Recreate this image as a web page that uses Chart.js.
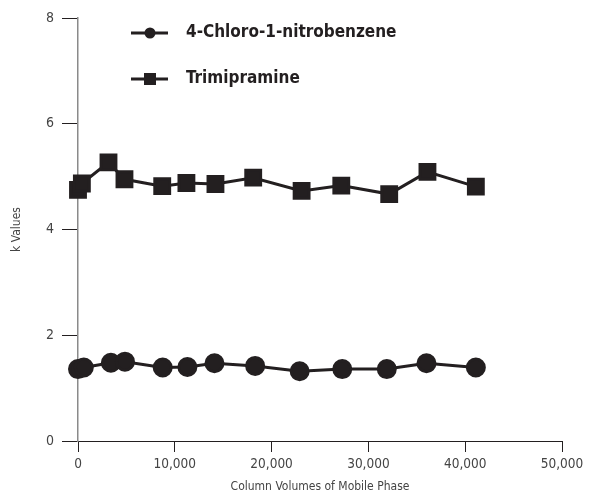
<!DOCTYPE html>
<html>
<head>
<meta charset="utf-8">
<script src="https://cdn.jsdelivr.net/npm/chart.js@4.4.1/dist/chart.umd.min.js"></script>
<style>
  html, body { margin: 0; padding: 0; background: #fff; }
  #wrap { width: 614px; height: 496px; }
</style>
</head>
<body>
<div id="wrap"><canvas id="kChart"></canvas></div>
<script>
// column volumes (x) and k values (y)
var chloroX = [0, 600, 3400, 4850, 8750, 11300, 14100, 18300, 22900, 27300, 31900, 36000, 41100];
var chloroK = [1.36, 1.39, 1.48, 1.50, 1.39, 1.40, 1.47, 1.42, 1.32, 1.36, 1.36, 1.47, 1.39];
var trimiX = [0, 400, 3150, 4800, 8700, 11200, 14200, 18100, 23100, 27200, 32150, 36100, 41100];
var trimiK = [4.75, 4.87, 5.27, 4.95, 4.82, 4.88, 4.86, 4.98, 4.73, 4.83, 4.67, 5.09, 4.81];
var seriesNames = ['4-Chloro-1-nitrobenzene', 'Trimipramine'];
var yTicks = [0, 2, 4, 6, 8];
var xTicks = [0, 10000, 20000, 30000, 40000, 50000];

var ink = '#231f20';
var fontFam = '"Liberation Sans Narrow", "DejaVu Sans Condensed", "Roboto Condensed", sans-serif';

function pts(xs, ys) {
    return xs.map(function (x, i) { return {x: x, y: ys[i]}; });
}

// hand-placed legend at the top, like the printed figure
var topLegend = {
    id: 'topLegend',
    afterDraw: function (chart) {
        var ctx = chart.ctx;
        var rows = [33, 79];
        chart.data.datasets.forEach(function (ds, i) {
            var y = rows[i];
            ctx.save();
            ctx.strokeStyle = ink;
            ctx.lineWidth = 3;
            ctx.beginPath();
            ctx.moveTo(131, y);
            ctx.lineTo(168, y);
            ctx.stroke();
            ctx.fillStyle = ink;
            if (ds.pointStyle === 'rect') {
                ctx.fillRect(144, y - 6, 12, 12);
            } else {
                ctx.beginPath();
                ctx.arc(150, y, 5.5, 0, Math.PI * 2);
                ctx.fill();
            }
            ctx.font = 'bold 17px ' + fontFam;
            ctx.textBaseline = 'middle';
            ctx.textAlign = 'left';
            ctx.fillText(ds.label, 186, y);
            ctx.restore();
        });
    }
};

var ctx = document.getElementById('kChart').getContext('2d');
var kChart = new Chart(ctx, {
    type: 'line',
    data: {
        datasets: [{
            label: seriesNames[0],
            data: pts(chloroX, chloroK),
            borderColor: ink,
            backgroundColor: ink,
            borderWidth: 3,
            pointStyle: 'circle',
            pointRadius: 8.5,
            pointHoverRadius: 8.5,
            clip: false
        }, {
            label: seriesNames[1],
            data: pts(trimiX, trimiK),
            borderColor: ink,
            backgroundColor: ink,
            borderWidth: 3,
            pointStyle: 'rect',
            pointRadius: 10.5,
            pointHoverRadius: 10.5,
            clip: false
        }]
    },
    options: {
        responsive: true,
        maintainAspectRatio: false,
        animation: false,
        layout: {padding: {left: 0, top: 18, right: 52, bottom: 2}},
        plugins: {legend: {display: false}, tooltip: {enabled: false}},
        scales: {
            x: {
                type: 'linear',
                min: 0,
                max: 50000,
                afterBuildTicks: function (s) { s.ticks = xTicks.map(function (v) { return {value: v}; }); },
                afterFit: function (s) { s.height = 53; },
                grid: {drawOnChartArea: false, drawTicks: true, tickLength: 11, color: ink, lineWidth: 1},
                border: {display: true, color: ink, width: 1},
                ticks: {color: '#444', font: {family: fontFam, size: 13.5}, padding: 4},
                title: {display: true, text: 'Column Volumes of Mobile Phase', color: '#444',
                    font: {family: fontFam, size: 12}, padding: {top: 0, bottom: 0}}
            },
            y: {
                type: 'linear',
                min: 0,
                max: 8,
                afterBuildTicks: function (s) { s.ticks = yTicks.map(function (v) { return {value: v}; }); },
                afterFit: function (s) { s.width = 78; },
                grid: {drawOnChartArea: false, drawTicks: true, tickLength: 16, color: ink, lineWidth: 1},
                border: {display: true, color: '#8a8a8a', width: 1.5},
                ticks: {color: '#444', font: {family: fontFam, size: 14}, padding: 8},
                title: {display: true, text: 'k Values', color: '#444',
                    font: {family: fontFam, size: 12}, padding: {top: 10, bottom: 0}}
            }
        }
    },
    plugins: [topLegend]
});
</script>
</body>
</html>
